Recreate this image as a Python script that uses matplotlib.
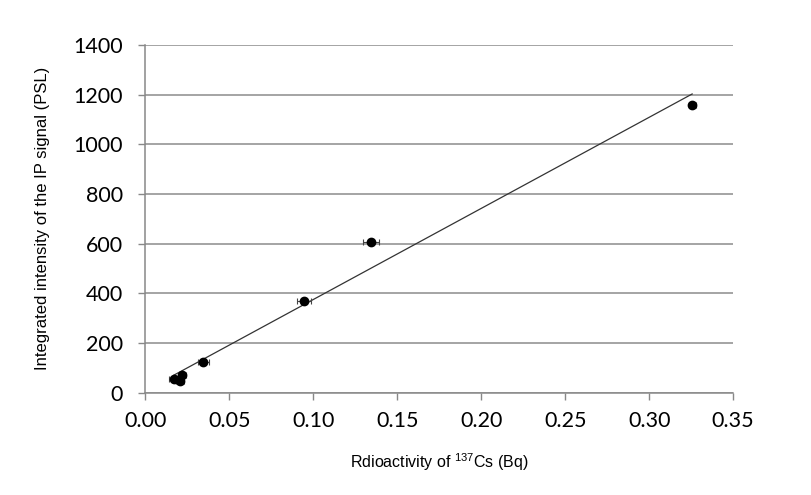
import numpy as np
import matplotlib.pyplot as plt

plt.rcParams['mathtext.fontset'] = 'custom'
plt.rcParams['mathtext.rm'] = 'Liberation Sans'

# Values
activity = [0.0169, 0.0218, 0.0208, 0.0345, 0.0948, 0.1343, 0.3256]   # Bq
psl = [55, 72, 45, 125, 368, 608, 1160]                                 # PSL
activity_err = [0.0025, 0.0025, 0.0025, 0.0033, 0.0042, 0.0048, 0.002]

x_ticks = [0.00, 0.05, 0.10, 0.15, 0.20, 0.25, 0.30, 0.35]
y_ticks = [0, 200, 400, 600, 800, 1000, 1200, 1400]

# linear trend line over the data range
slope, intercept = np.polyfit(activity, psl, 1)
xfit = np.array([min(activity), max(activity)])
yfit = slope * xfit + intercept

fig = plt.figure(figsize=(8.11, 4.95), dpi=100)
ax = fig.add_axes([0.179, 0.207, 0.725, 0.702])

ax.set_xlim(0, 0.35)
ax.set_ylim(0, 1400)
ax.set_yticks(y_ticks)
ax.set_xticks(x_ticks)
ax.set_xticklabels([f"{t:.2f}" for t in x_ticks])
ax.yaxis.grid(True, color='#8c8c8c', linewidth=1.1)
ax.set_axisbelow(True)

ax.plot(xfit, yfit, color='#333333', linewidth=0.9)
ax.errorbar(activity, psl, xerr=activity_err, fmt='o', color='black',
            markersize=6, ecolor='#444444', elinewidth=0.8, capsize=2.5,
            capthick=0.8)

for s in ['top', 'right']:
    ax.spines[s].set_visible(False)
for s in ['left', 'bottom']:
    ax.spines[s].set_color('#888888')
    ax.spines[s].set_linewidth(1.1)

ax.tick_params(axis='both', direction='out', length=5, width=1, color='#888888',
               labelsize=15.5)
ax.tick_params(axis='y', pad=11)
ax.tick_params(axis='x', pad=8)
for lab in ax.get_xticklabels() + ax.get_yticklabels():
    lab.set_family(['Lato', 'DejaVu Sans'])

ax.set_xlabel(r"Rdioactivity of $^{137}$Cs (Bq)", fontsize=11.5,
              family='Liberation Sans', va='center')
ax.set_ylabel("Integrated intensity of the IP signal (PSL)", fontsize=12,
              family='Liberation Sans', va='center')
ax.xaxis.set_label_coords(0.5, -0.201)
ax.yaxis.set_label_coords(-0.175, 0.5)

plt.savefig("out.png", dpi=100)
